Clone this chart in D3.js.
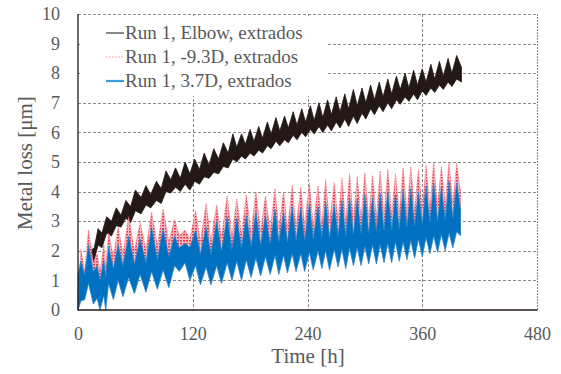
<!DOCTYPE html>
<html><head><meta charset="utf-8">
<script src="https://cdn.jsdelivr.net/npm/d3@7"></script>
<style>body{margin:0;background:#fff}svg{display:block}</style>
</head><body>
<svg id="c" width="561" height="374"></svg>
<script>
// ---- data (envelope of each oscillating trace) ----
const xTicks = [0, 120, 240, 360, 480];
const yTicks = [0,1,2,3,4,5,6,7,8,9,10];
const legendLabels = ["Run 1, Elbow, extrados", "Run 1, -9.3D, extrados", "Run 1, 3.7D, extrados"];

// Elbow (black): node times [h], upper and lower envelope [µm]
const elbowT  = [0,4,8,13,17,21,25,30,35,40,45,50,55,60,66,71,76,82,87,92,97,102,107,112,117,122,127,132,137,142,147,152,157,162,166,171,175,180,184,189,193,198,202,207,211,216,220,225,229,234,238,243,247,252,256,261,265,270,274,279,283,288,292,297,301,306,310,315,319,324,328,333,337,342,346,351,355,360,364,369,373,378,382,387,391,396,401];
const elbowHi = [0.2,1.1,1.35,2.0,2.1,2.75,2.6,3.15,3.0,3.45,3.2,3.7,3.5,4.05,3.8,4.2,3.9,4.35,4.1,4.7,4.4,4.8,4.45,5.0,4.6,5.1,4.75,5.3,4.9,5.45,5.1,5.65,5.3,5.95,5.5,5.95,5.6,6.1,5.7,6.2,5.8,6.35,5.95,6.5,6.05,6.55,6.15,6.7,6.25,6.8,6.35,6.9,6.4,7.0,6.5,7.1,6.6,7.2,6.7,7.3,6.8,7.45,6.9,7.5,7.0,7.6,7.1,7.7,7.2,7.8,7.3,7.9,7.45,8.0,7.5,8.1,7.6,8.15,7.7,8.3,7.8,8.4,7.9,8.5,8.0,8.6,8.2];
const elbowLo = [0,0.7,1.05,1.45,1.7,2.2,2.1,2.6,2.5,2.85,2.8,3.1,2.95,3.35,3.25,3.55,3.45,3.7,3.6,4.0,3.95,4.15,4.0,4.25,4.05,4.35,4.25,4.5,4.45,4.65,4.6,4.85,4.8,5.1,5.0,5.2,5.1,5.3,5.2,5.4,5.3,5.55,5.45,5.7,5.55,5.75,5.65,5.9,5.75,6.0,5.85,6.1,5.95,6.2,6.0,6.25,6.05,6.35,6.15,6.45,6.2,6.55,6.3,6.65,6.45,6.8,6.6,6.9,6.7,7.0,6.8,7.1,6.95,7.2,7.05,7.3,7.1,7.4,7.25,7.5,7.35,7.6,7.45,7.7,7.55,7.8,7.7];

// -9.3D (red) and 3.7D (blue) share node times [h]
const pipeT = [0,3,7,11,16,20,23,27,29,32,37,42,47,53,59,65,71,77,83,89,95,101,106,112,117,123,128,134,139,145,150,156,161,166,171,176,181,186,191,196,201,206,210,215,219,224,228,233,237,242,246,251,255,259,263,268,272,276,280,284,288,292,296,300,304,308,312,316,320,324,328,332,336,340,344,348,352,356,360,364,368,372,376,380,384,388,392,396,400];
const m93Hi = [0.5,2.05,1.3,2.7,1.6,1.9,1.3,2.2,1.4,2.6,1.8,2.8,1.9,3.15,2.0,2.95,2.05,3.3,2.2,3.4,2.3,3.05,2.5,2.7,2.4,3.35,2.3,3.6,2.35,3.55,2.45,3.85,2.5,3.75,2.55,3.9,2.6,4.0,2.65,3.85,2.7,4.1,2.75,4.0,2.75,4.2,2.8,4.15,2.85,4.3,2.85,4.2,2.9,4.4,2.95,4.3,3.0,4.45,3.0,4.6,3.05,4.5,3.1,4.65,3.1,4.55,3.15,4.7,3.2,4.75,3.2,4.6,3.25,4.8,3.3,4.85,3.35,4.75,3.4,4.9,3.45,5.0,3.5,4.85,3.55,5.0,3.6,4.95,4.0];
const m93Lo = [0,0.6,0.5,1.1,0.4,0.6,0.2,0.7,0.3,1.1,0.6,1.2,0.7,1.3,0.8,1.4,0.9,1.5,1.0,1.6,1.0,1.7,1.5,1.8,1.3,1.7,1.1,1.7,1.1,1.7,1.2,1.8,1.3,1.85,1.3,1.9,1.4,1.95,1.4,2.0,1.45,2.05,1.5,2.05,1.5,2.1,1.55,2.1,1.55,2.15,1.6,2.2,1.65,2.2,1.6,2.25,1.7,2.25,1.65,2.3,1.75,2.3,1.75,2.35,1.8,2.4,1.8,2.4,1.85,2.45,1.85,2.5,1.9,2.5,1.95,2.55,2.0,2.6,2.05,2.65,2.15,2.7,2.2,2.75,2.25,2.8,2.35,2.85,2.7];
const p37Hi = [1.2,1.65,1.2,2.2,1.3,1.5,1.0,1.7,1.1,2.15,1.4,2.2,1.5,2.5,1.55,2.4,1.6,2.8,1.7,2.75,1.8,2.5,2.1,2.25,2.1,2.7,1.9,2.8,1.9,3.0,2.0,3.15,2.05,3.1,2.1,3.2,2.15,3.3,2.2,3.2,2.25,3.4,2.3,3.3,2.3,3.5,2.35,3.45,2.35,3.6,2.4,3.5,2.45,3.65,2.45,3.55,2.5,3.7,2.5,3.8,2.55,3.75,2.6,3.9,2.6,3.8,2.65,3.95,2.7,4.0,2.7,3.9,2.75,4.05,2.8,4.1,2.85,4.0,2.9,4.2,2.95,4.3,3.0,4.15,3.05,4.35,3.1,4.3,3.4];
const p37Lo = [0,0.3,0.35,0.9,0.2,0.4,0,0.5,0,0.9,0.35,1.0,0.45,1.1,0.55,1.2,0.6,1.3,0.7,1.35,0.75,1.5,1.3,1.6,1.0,1.5,0.85,1.45,0.85,1.5,0.9,1.6,1.0,1.65,1.0,1.7,1.1,1.75,1.15,1.8,1.2,1.85,1.2,1.85,1.25,1.9,1.3,1.9,1.3,1.95,1.35,2.0,1.4,2.0,1.35,2.05,1.45,2.05,1.4,2.1,1.5,2.1,1.5,2.15,1.55,2.2,1.55,2.2,1.6,2.25,1.6,2.3,1.65,2.3,1.7,2.35,1.75,2.4,1.8,2.45,1.9,2.5,1.95,2.55,2.0,2.6,2.1,2.65,2.5];

// ---- chart ----
const svg = d3.select("#c");
const x = d3.scaleLinear().domain([0, 480]).range([78, 537]);
const y = d3.scaleLinear().domain([0, 10]).range([310, 14]);
const textCol = "#595959";
const serif = "'Liberation Serif','Times New Roman',serif";

// red dotted texture
const defs = svg.append("defs");
const pat = defs.append("pattern").attr("id","dots").attr("patternUnits","userSpaceOnUse")
  .attr("width",3).attr("height",3);
pat.append("rect").attr("width",3).attr("height",3).attr("fill","#f8c6cc");
pat.append("rect").attr("width",2).attr("height",1.5).attr("fill","#e8364a");
pat.append("rect").attr("x",1.5).attr("y",1.5).attr("width",1).attr("height",1).attr("fill","#ef6d7c");

// gridlines
const grid = svg.append("g").attr("stroke","#8a8a8a").attr("stroke-width",1).attr("stroke-dasharray","3,2");
grid.selectAll("line.h").data(yTicks.filter(d=>d>0)).join("line")
  .attr("x1",x(0)).attr("x2",x(480)).attr("y1",d=>Math.round(y(d))+0.5).attr("y2",d=>Math.round(y(d))+0.5);
grid.selectAll("line.v").data(xTicks.filter(d=>d>0 && d<480)).join("line")
  .attr("y1",y(10)).attr("y2",y(0)).attr("x1",d=>Math.round(x(d))+0.5).attr("x2",d=>Math.round(x(d))+0.5);
svg.append("line").attr("x1",Math.round(x(480))+0.5).attr("x2",Math.round(x(480))+0.5)
  .attr("y1",y(10)).attr("y2",y(0)).attr("stroke","#8a8a8a").attr("stroke-width",1).attr("stroke-dasharray","2,1");

// legend box (hides grid behind it)
svg.append("rect").attr("x",80).attr("y",16).attr("width",248).attr("height",80).attr("fill","#fff");

const band = d3.area().x(d=>x(d.t)).y0(d=>y(d.lo)).y1(d=>y(d.hi));
const rows = (T,H,L)=>T.map((t,i)=>({t, hi:H[i], lo:L[i]}));

svg.append("path").datum(rows(elbowT,elbowHi,elbowLo)).attr("d",band)
  .attr("fill","#231815").attr("stroke","#231815").attr("stroke-width",0.8);
svg.append("path").datum(rows(pipeT,m93Hi,m93Lo)).attr("d",band)
  .attr("fill","url(#dots)").attr("stroke","#ef7080").attr("stroke-width",0.8).attr("stroke-dasharray","1.5,1");
svg.append("path").datum(rows(pipeT,p37Hi,p37Lo)).attr("d",band)
  .attr("fill","#0070c0").attr("stroke","#2a86cc").attr("stroke-width",0.8);

// axes lines
svg.append("line").attr("x1",x(0)).attr("x2",x(0)).attr("y1",y(10)).attr("y2",y(0)+0.5)
  .attr("stroke","#231815").attr("stroke-width",1.3);
svg.append("line").attr("x1",x(0)).attr("x2",x(480)+0.5).attr("y1",y(0)).attr("y2",y(0))
  .attr("stroke","#231815").attr("stroke-width",1.3);

// tick labels through axes
const ax = svg.append("g").attr("transform",`translate(0,${y(0)})`)
  .call(d3.axisBottom(x).tickValues(xTicks).tickSize(0).tickPadding(17).tickFormat(d3.format("d")));
const ay = svg.append("g").attr("transform",`translate(${x(0)},0)`)
  .call(d3.axisLeft(y).tickValues(yTicks).tickSize(0).tickPadding(18).tickFormat(d3.format("d")));
[ax,ay].forEach(g=>{
  g.select(".domain").remove();
  g.selectAll("text").attr("font-family",serif).attr("font-size",18).attr("fill",textCol);
});

// axis titles
svg.append("text").attr("x",308).attr("y",363).attr("text-anchor","middle")
  .attr("font-family",serif).attr("font-size",21).attr("fill",textCol).text("Time [h]");
svg.append("text").attr("transform","translate(32,163) rotate(-90)").attr("text-anchor","middle")
  .attr("font-family",serif).attr("font-size",21).attr("fill",textCol).text("Metal loss [μm]");

// legend
const lg = svg.append("g");
const legStyle = [
  {stroke:"#3a3a3a", w:1.2, dash:null},
  {stroke:"#f08a94", w:1.2, dash:"1.5,1.5"},
  {stroke:"#3d9ad8", w:2.2, dash:null}
];
legendLabels.forEach((lab,i)=>{
  const yy = 33 + i*24;
  lg.append("line").attr("x1",106).attr("x2",124).attr("y1",yy).attr("y2",yy)
    .attr("stroke",legStyle[i].stroke).attr("stroke-width",legStyle[i].w)
    .attr("stroke-dasharray",legStyle[i].dash);
  lg.append("text").attr("x",125).attr("y",yy+6).attr("font-family",serif).attr("font-size",19)
    .attr("fill",textCol).text(lab);
});
</script>
</body></html>
